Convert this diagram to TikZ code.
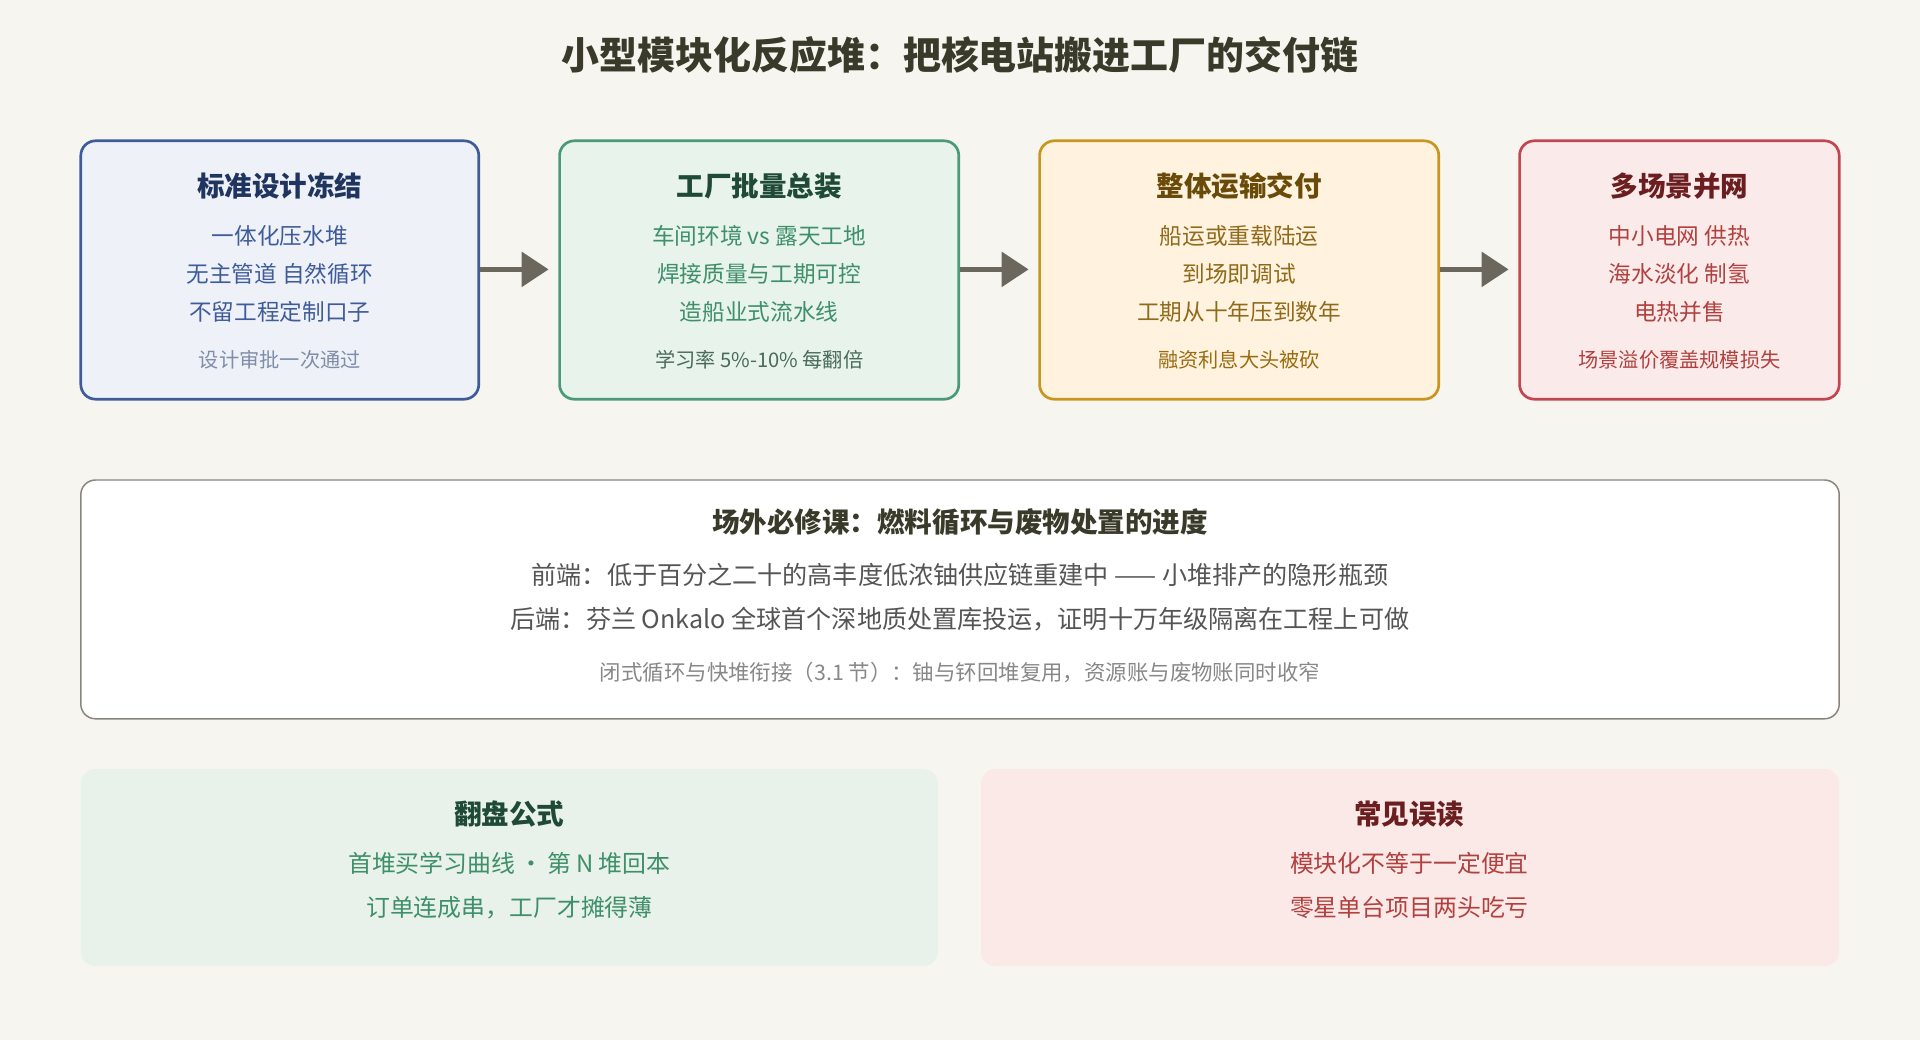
\documentclass[tikz,border=0pt]{standalone}
\usepackage{fontspec}
\setmainfont{Noto Sans CJK SC}
\usetikzlibrary{arrows.meta}
\definecolor{bg}{HTML}{F7F5F0}
\definecolor{aF}{HTML}{EEF1F7}\definecolor{aB}{HTML}{3F5C9A}\definecolor{aT}{HTML}{1F3560}\definecolor{aN}{HTML}{7F8DA8}
\definecolor{bF}{HTML}{E8F3EC}\definecolor{bB}{HTML}{4A9A78}\definecolor{bT}{HTML}{1E4A36}\definecolor{bX}{HTML}{3E8F6A}\definecolor{bN}{HTML}{4A6A5A}
\definecolor{cF}{HTML}{FFF3E0}\definecolor{cB}{HTML}{C8961E}\definecolor{cT}{HTML}{6A4A08}\definecolor{cX}{HTML}{8F6A1A}\definecolor{cN}{HTML}{9A6B10}
\definecolor{dF}{HTML}{FBEAEA}\definecolor{dB}{HTML}{C0474F}\definecolor{dT}{HTML}{6A1E20}\definecolor{dX}{HTML}{B0413F}
\definecolor{gF}{HTML}{E8F2EA}\definecolor{pF}{HTML}{FBE9E8}
\definecolor{ink}{HTML}{3A3A2A}\definecolor{mid}{HTML}{555555}\definecolor{lt}{HTML}{888888}
\definecolor{arr}{HTML}{6B675C}
\tikzset{
 card/.style={rounded corners=12pt,line width=2.2pt},
 ttl/.style={font=\fontsize{22.5}{24}\selectfont\bfseries},
 txt/.style={font=\fontsize{18.5}{31}\selectfont,align=center},
 note/.style={font=\fontsize{16.5}{18}\selectfont},
 flow/.style={line width=4pt,draw=arr,-{Triangle[length=22pt,width=28pt]}}
}
\begin{document}
\begin{tikzpicture}[x=1pt,y=-1pt]
\fill[bg] (0,0) rectangle (1568,849);
\useasboundingbox (0,0) rectangle (1568,849);
\node[font=\fontsize{31}{34}\selectfont\bfseries,text=ink] (title) at (784,45) {小型模块化反应堆：把核电站搬进工厂的交付链};
% cards
\draw[card,fill=aF,draw=aB] (66,115) rectangle (391,326);
\node[ttl,text=aT] (t1) at (228.5,152) {标准设计冻结};
\node[txt,text=aB] (x1) at (228.5,224) {一体化压水堆\\无主管道 自然循环\\不留工程定制口子};
\node[note,text=aN] (n1) at (228.5,294) {设计审批一次通过};
\draw[card,fill=bF,draw=bB] (457,115) rectangle (783,326);
\node[ttl,text=bT] (t2) at (620,152) {工厂批量总装};
\node[txt,text=bX] (x2) at (620,224) {车间环境 vs 露天工地\\焊接质量与工期可控\\造船业式流水线};
\node[note,text=bN] (n2) at (620,294) {学习率 5\%-10\% 每翻倍};
\draw[card,fill=cF,draw=cB] (849,115) rectangle (1175,326);
\node[ttl,text=cT] (t3) at (1012,152) {整体运输交付};
\node[txt,text=cX] (x3) at (1012,224) {船运或重载陆运\\到场即调试\\工期从十年压到数年};
\node[note,text=cN] (n3) at (1012,294) {融资利息大头被砍};
\draw[card,fill=dF,draw=dB] (1241,115) rectangle (1502,326);
\node[ttl,text=dT] (t4) at (1371.5,152) {多场景并网};
\node[txt,text=dX] (x4) at (1371.5,224) {中小电网 供热\\海水淡化 制氢\\电热并售};
\node[note,text=dX] (n4) at (1371.5,294) {场景溢价覆盖规模损失};
\coordinate (a1) at (392,220);\coordinate (b1) at (448,220);
\coordinate (a2) at (784,220);\coordinate (b2) at (840,220);
\coordinate (a3) at (1176,220);\coordinate (b3) at (1232,220);
\draw[flow] (a1)--(b1);\draw[flow] (a2)--(b2);\draw[flow] (a3)--(b3);
% middle
\draw[rounded corners=12pt,line width=1.2pt,draw=arr!80,fill=white] (66,392) rectangle (1502,587);
\node[ttl,text=ink] (mt) at (784,426) {场外必修课：燃料循环与废物处置的进度};
\node[font=\fontsize{20.5}{36}\selectfont,text=mid,align=center] (mx) at (784,488) {前端：低于百分之二十的高丰度低浓铀供应链重建中 —— 小堆排产的隐形瓶颈\\后端：芬兰 Onkalo 全球首个深地质处置库投运，证明十万年级隔离在工程上可做};
\node[font=\fontsize{17.5}{18}\selectfont,text=lt] (mn) at (784,549) {闭式循环与快堆衔接（3.1 节）：铀与钚回堆复用，资源账与废物账同时收窄};
% bottom
\fill[gF,rounded corners=12pt] (66,628) rectangle (766,789);
\node[ttl,text=bT] (g1) at (416,665) {翻盘公式};
\node[font=\fontsize{19.5}{36}\selectfont,text=bX,align=center] (g2) at (416,723) {首堆买学习曲线\,·\,第 N 堆回本\\订单连成串，工厂才摊得薄};
\fill[pF,rounded corners=12pt] (801,628) rectangle (1502,789);
\node[ttl,text=dT] (p1) at (1151,665) {常见误读};
\node[font=\fontsize{19.5}{36}\selectfont,text=dX,align=center] (p2) at (1151,723) {模块化不等于一定便宜\\零星单台项目两头吃亏};
\end{tikzpicture}
\end{document}
